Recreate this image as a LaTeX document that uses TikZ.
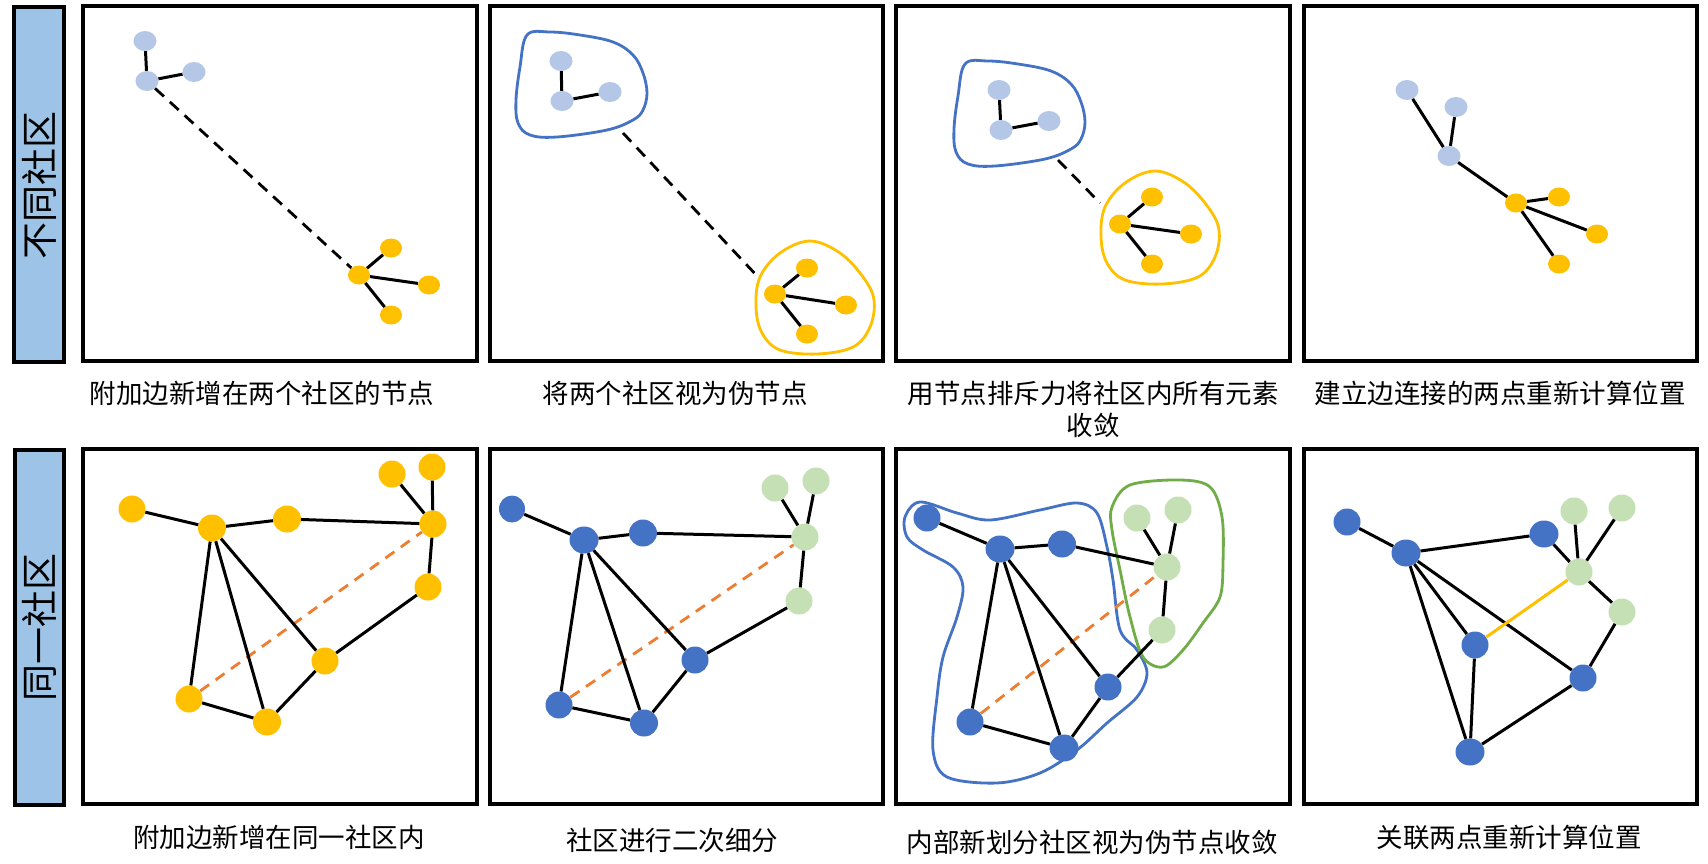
\documentclass[tikz,border=0pt]{standalone}
\usepackage{fontspec}
\newfontfamily\cjk{Noto Sans CJK SC}
\usetikzlibrary{shapes.geometric}
\definecolor{lb}{HTML}{B4C7E7}
\definecolor{og}{HTML}{FFC000}
\definecolor{bl}{HTML}{4472C4}
\definecolor{gr}{HTML}{C5E0B4}
\definecolor{dor}{HTML}{ED7D31}
\definecolor{barfill}{HTML}{9DC3E6}
\definecolor{gline}{HTML}{70AD47}
\begin{document}
\begin{tikzpicture}[x=1pt,y=-1pt,
  panelbox/.style={draw=black,line width=3.4pt},
  sidebar/.style={draw=black,line width=3.2pt,fill=barfill},
  sidetext/.style={font=\cjk\fontsize{37}{40}\selectfont,rotate=90,inner sep=0},
  vs/.style={ellipse,inner sep=0,minimum width=23pt,minimum height=20pt,fill=lb},
  os/.style={ellipse,inner sep=0,minimum width=22pt,minimum height=19pt,fill=og},
  big/.style={ellipse,inner sep=0,minimum width=27pt,minimum height=27pt},
  bigo/.style={big,fill=og},
  bigb/.style={big,fill=bl},
  bigg/.style={big,fill=gr},
  edge/.style={draw=black,line width=3pt},
  dedge/.style={draw=black,line width=2.8pt,dash pattern=on 12pt off 8pt},
  oedge/.style={draw=dor,line width=2.8pt,dash pattern=on 11pt off 8pt},
  yedge/.style={draw=og,line width=3pt},
  blob/.style={line width=2.8pt},
  caption/.style={font=\cjk\fontsize{26.5}{32}\selectfont,align=center,inner sep=0}]
\useasboundingbox (0,0) rectangle (1708,864);
\fill[white] (0,0) rectangle (1708,864);

% side bars
\draw[sidebar] (14,7) rectangle (64,362);
\node[sidetext] (s1) at (39,185) {不同社区};
\draw[sidebar] (15,450) rectangle (64,805);
\node[sidetext] (s2) at (39,627) {同一社区};

% panel boxes
\draw[panelbox] (83,6) rectangle (477,361);
\draw[panelbox] (490,6) rectangle (883,361);
\draw[panelbox] (896,6) rectangle (1290,361);
\draw[panelbox] (1304,6) rectangle (1697,361);
\draw[panelbox] (83,449) rectangle (477,804);
\draw[panelbox] (490,449) rectangle (883,804);
\draw[panelbox] (896,449) rectangle (1290,804);
\draw[panelbox] (1304,449) rectangle (1697,804);

% ---------- panel 1 ----------
\node[vs] (p1a) at (145,41) {};
\node[vs] (p1b) at (147,81) {};
\node[vs] (p1c) at (194,72) {};
\node[os] (p1d) at (359,275) {};
\node[os] (p1e) at (391,248) {};
\node[os] (p1f) at (429,285) {};
\node[os] (p1g) at (391,315) {};
\draw[edge] (p1a) -- (p1b);
\draw[edge] (p1b) -- (p1c);
\draw[edge] (p1d) -- (p1e);
\draw[edge] (p1d) -- (p1f);
\draw[edge] (p1d) -- (p1g);
\draw[dedge] (p1b) -- (p1d);
\node[caption] (c1) at (262,393) {附加边新增在两个社区的节点};

% ---------- panel 2 ----------
\draw[bl,blob] plot[smooth cycle,tension=0.6] coordinates {(527,35) (550,32) (580,35) (613,42) (633,55) (643,73) (647,93) (643,110) (633,120) (607,130) (557,137) (530,135) (518,123) (516,100) (520,67)};
\draw[og,blob] plot[smooth cycle,tension=0.6] coordinates {(810,241) (840,253) (863,277) (874,300) (870,327) (853,347) (817,354) (780,350) (762,333) (756,307) (760,277) (780,253)};
\node[vs] (p2a) at (561,61) {};
\node[vs] (p2b) at (562,101) {};
\node[vs] (p2c) at (610,92) {};
\node[os] (p2d) at (775,294) {};
\node[os] (p2e) at (807,268) {};
\node[os] (p2f) at (846,305) {};
\node[os] (p2g) at (807,334) {};
\draw[edge] (p2a) -- (p2b);
\draw[edge] (p2b) -- (p2c);
\draw[edge] (p2d) -- (p2e);
\draw[edge] (p2d) -- (p2f);
\draw[edge] (p2d) -- (p2g);
\coordinate (p2s) at (623,133);
\coordinate (p2t) at (759,278);
\draw[dedge] (p2s) -- (p2t);
\node[caption] (c2) at (675,393) {将两个社区视为伪节点};

% ---------- panel 3 ----------
\begin{scope}[shift={(438,29)}]
\draw[bl,blob] plot[smooth cycle,tension=0.6] coordinates {(527,35) (550,32) (580,35) (613,42) (633,55) (643,73) (647,93) (643,110) (633,120) (607,130) (557,137) (530,135) (518,123) (516,100) (520,67)};
\end{scope}
\begin{scope}[shift={(345,-70)}]
\draw[og,blob] plot[smooth cycle,tension=0.6] coordinates {(810,241) (840,253) (863,277) (874,300) (870,327) (853,347) (817,354) (780,350) (762,333) (756,307) (760,277) (780,253)};
\end{scope}
\node[vs] (p3a) at (999,90) {};
\node[vs] (p3b) at (1001,130) {};
\node[vs] (p3c) at (1049,121) {};
\node[os] (p3d) at (1120,224) {};
\node[os] (p3e) at (1152,197) {};
\node[os] (p3f) at (1191,234) {};
\node[os] (p3g) at (1152,264) {};
\draw[edge] (p3a) -- (p3b);
\draw[edge] (p3b) -- (p3c);
\draw[edge] (p3d) -- (p3e);
\draw[edge] (p3d) -- (p3f);
\draw[edge] (p3d) -- (p3g);
\coordinate (p3s) at (1058,160);
\coordinate (p3t) at (1100,203);
\draw[dedge] (p3s) -- (p3t);
\node[caption] (c3) at (1093,409) {用节点排斥力将社区内所有元素\\收敛};

% ---------- panel 4 ----------
\node[vs] (p4a) at (1407,90) {};
\node[vs] (p4b) at (1456,107) {};
\node[vs] (p4c) at (1449,156) {};
\node[os] (p4d) at (1516,203) {};
\node[os] (p4e) at (1559,197) {};
\node[os] (p4f) at (1597,234) {};
\node[os] (p4g) at (1559,264) {};
\draw[edge] (p4a) -- (p4c);
\draw[edge] (p4b) -- (p4c);
\draw[edge] (p4c) -- (p4d);
\draw[edge] (p4d) -- (p4e);
\draw[edge] (p4d) -- (p4f);
\draw[edge] (p4d) -- (p4g);
\node[caption] (c4) at (1500,393) {建立边连接的两点重新计算位置};

% ---------- panel 5 ----------
\node[bigo] (p5a) at (132,509) {};
\node[bigo,minimum width=28pt] (p5b) at (212,528) {};
\node[bigo,minimum width=28pt] (p5c) at (287,519) {};
\node[bigo] (p5d) at (433,524) {};
\node[bigo] (p5e) at (392,474) {};
\node[bigo] (p5f) at (432,467) {};
\node[bigo] (p5g) at (428,587) {};
\node[bigo] (p5h) at (325,661) {};
\node[bigo] (p5i) at (189,699) {};
\node[bigo,minimum width=28pt] (p5j) at (267,722) {};
\draw[oedge] (p5i) -- (p5d);
\draw[edge] (p5a) -- (p5b);
\draw[edge] (p5b) -- (p5c);
\draw[edge] (p5c) -- (p5d);
\draw[edge] (p5e) -- (p5d);
\draw[edge] (p5f) -- (p5d);
\draw[edge] (p5d) -- (p5g);
\draw[edge] (p5g) -- (p5h);
\draw[edge] (p5h) -- (p5j);
\draw[edge] (p5j) -- (p5i);
\draw[edge] (p5i) -- (p5b);
\draw[edge] (p5b) -- (p5j);
\draw[edge] (p5b) -- (p5h);
\node[caption] (c5) at (279,837) {附加边新增在同一社区内};

% ---------- panel 6 ----------
\node[bigb,minimum width=26pt] (p6a) at (512,509) {};
\node[bigb,minimum width=29pt] (p6b) at (584,540) {};
\node[bigb,minimum width=28pt] (p6c) at (643,533) {};
\node[bigg] (p6d) at (805,537) {};
\node[bigg] (p6e) at (775,488) {};
\node[bigg] (p6f) at (816,481) {};
\node[bigg] (p6g) at (799,601) {};
\node[bigb] (p6h) at (695,660) {};
\node[bigb] (p6i) at (559,705) {};
\node[bigb,minimum width=28pt] (p6j) at (644,723) {};
\draw[oedge] (p6i) -- (p6d);
\draw[edge] (p6a) -- (p6b);
\draw[edge] (p6b) -- (p6c);
\draw[edge] (p6c) -- (p6d);
\draw[edge] (p6e) -- (p6d);
\draw[edge] (p6f) -- (p6d);
\draw[edge] (p6d) -- (p6g);
\draw[edge] (p6g) -- (p6h);
\draw[edge] (p6h) -- (p6j);
\draw[edge] (p6j) -- (p6i);
\draw[edge] (p6i) -- (p6b);
\draw[edge] (p6b) -- (p6j);
\draw[edge] (p6b) -- (p6h);
\node[caption] (c6) at (672,840) {社区进行二次细分};

% ---------- panel 7 ----------
\draw[bl,blob] plot[smooth cycle,tension=0.55] coordinates {(905,517) (920,502) (957,513) (990,520) (1040,510) (1077,503) (1097,513) (1107,547) (1113,580) (1120,630) (1137,650) (1147,673) (1137,697) (1107,723) (1077,750) (1040,773) (997,783) (947,777) (933,750) (937,697) (943,657) (957,617) (963,587) (953,567) (923,550) (907,537)};
\draw[gline,blob] plot[smooth cycle,tension=0.55] coordinates {(1112,507) (1130,485) (1180,480) (1210,487) (1222,517) (1223,563) (1220,597) (1203,623) (1183,650) (1163,667) (1143,657) (1130,617) (1120,570) (1112,530)};
\node[bigb] (p7a) at (927,518) {};
\node[bigb,minimum width=29pt] (p7b) at (1000,549) {};
\node[bigb,minimum width=28pt] (p7c) at (1062,544) {};
\node[bigg] (p7d) at (1167,567) {};
\node[bigg] (p7e) at (1137,518) {};
\node[bigg] (p7f) at (1178,510) {};
\node[bigg] (p7g) at (1162,630) {};
\node[bigb] (p7h) at (1108,687) {};
\node[bigb] (p7i) at (970,722) {};
\node[bigb,minimum width=29pt] (p7j) at (1064,748) {};
\draw[oedge] (p7i) -- (p7d);
\draw[edge] (p7a) -- (p7b);
\draw[edge] (p7b) -- (p7c);
\draw[edge] (p7c) -- (p7d);
\draw[edge] (p7e) -- (p7d);
\draw[edge] (p7f) -- (p7d);
\draw[edge] (p7d) -- (p7g);
\draw[edge] (p7g) -- (p7h);
\draw[edge] (p7h) -- (p7j);
\draw[edge] (p7j) -- (p7i);
\draw[edge] (p7i) -- (p7b);
\draw[edge] (p7b) -- (p7j);
\draw[edge] (p7b) -- (p7h);
\node[caption] (c7) at (1092,842) {内部新划分社区视为伪节点收敛};

% ---------- panel 8 ----------
\node[bigb] (p8a) at (1347,522) {};
\node[bigb,minimum width=29pt] (p8b) at (1406,553) {};
\node[bigb,minimum width=29pt] (p8c) at (1544,534) {};
\node[bigg] (p8d) at (1579,572) {};
\node[bigg] (p8e) at (1574,511) {};
\node[bigg] (p8f) at (1622,508) {};
\node[bigg] (p8g) at (1622,612) {};
\node[bigb] (p8h) at (1583,678) {};
\node[bigb] (p8i) at (1475,645) {};
\node[bigb,minimum width=29pt] (p8j) at (1470,752) {};
\draw[edge] (p8a) -- (p8b);
\draw[edge] (p8b) -- (p8c);
\draw[edge] (p8c) -- (p8d);
\draw[edge] (p8e) -- (p8d);
\draw[edge] (p8f) -- (p8d);
\draw[edge] (p8d) -- (p8g);
\draw[edge] (p8g) -- (p8h);
\draw[edge] (p8h) -- (p8j);
\draw[edge] (p8j) -- (p8i);
\draw[edge] (p8i) -- (p8b);
\draw[edge] (p8b) -- (p8j);
\draw[edge] (p8b) -- (p8h);
\draw[yedge] (p8i) -- (p8d);
\node[caption] (c8) at (1509,837) {关联两点重新计算位置};
\end{tikzpicture}
\end{document}
